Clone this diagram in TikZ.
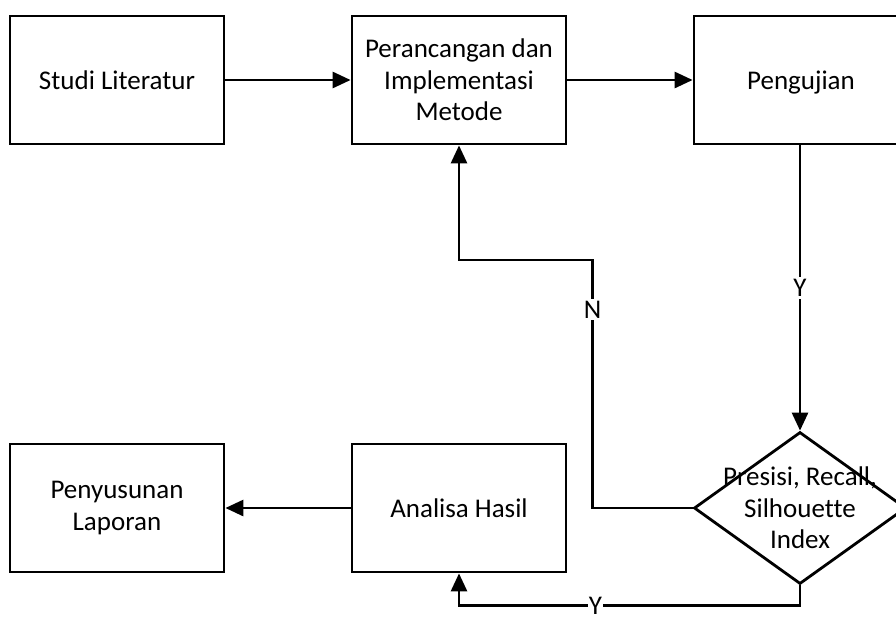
\documentclass[tikz,border=0pt]{standalone}
\usepackage{fontspec}
\setmainfont{Carlito}[Ligatures=NoCommon]
\usepackage{tikz}
\usetikzlibrary{calc}
\usetikzlibrary{shapes.geometric}
\usetikzlibrary{arrows.meta}
\tikzset{
  box/.style={draw, line width=2.8pt, minimum width=214pt, minimum height=128pt, align=center, inner sep=0pt},
  onebox/.style={box, text depth=0pt},
  cekbox/.style={draw, diamond, line width=2.8pt, minimum width=212pt, minimum height=152pt, inner sep=0pt},
  arr/.style={line width=2.8pt, -{Triangle[length=18pt,width=16pt]}},
  lbl/.style={fill=white, inner sep=2pt}
}
\begin{document}
\begin{tikzpicture}[x=1pt, y=-1pt, font=\fontsize{27}{31.5}\selectfont]
        \useasboundingbox (0,0) rectangle (896,622);
        % row1
        \node[onebox] (lit) at (117,80) {Studi Literatur};
        \node[box] (rancang) at (459,80) {Perancangan dan\\Implementasi\\Metode};
        \node[onebox] (uji) at (801,80) {Pengujian};
        % row2
        \node[box] (susun) at (117,508) {Penyusunan\\Laporan};
        \node[onebox] (hasil) at (459,508) {Analisa Hasil};
        \node[cekbox, label={[align=center]center:Presisi, Recall,\\Silhouette\\Index}] (cek) at (800,508) {};

        % arrows
        \draw[arr] (lit) -- (rancang);
        \draw[arr] (rancang) -- (uji);
        \draw[arr] (uji.south -| cek.north) -- node[lbl]{Y} (cek.north);
        \draw[arr] (cek.west) -- ++(-100,0) -- node[lbl, pos=0.8]{N} ++(0,-248) -| (rancang.south);
        \draw[arr] (hasil) -- (susun);
        \draw[arr] (cek.south) -- ++(0,20) -| node[lbl, pos=0.3, inner sep=1pt]{Y} (hasil.south);
    \end{tikzpicture}
\end{document}
